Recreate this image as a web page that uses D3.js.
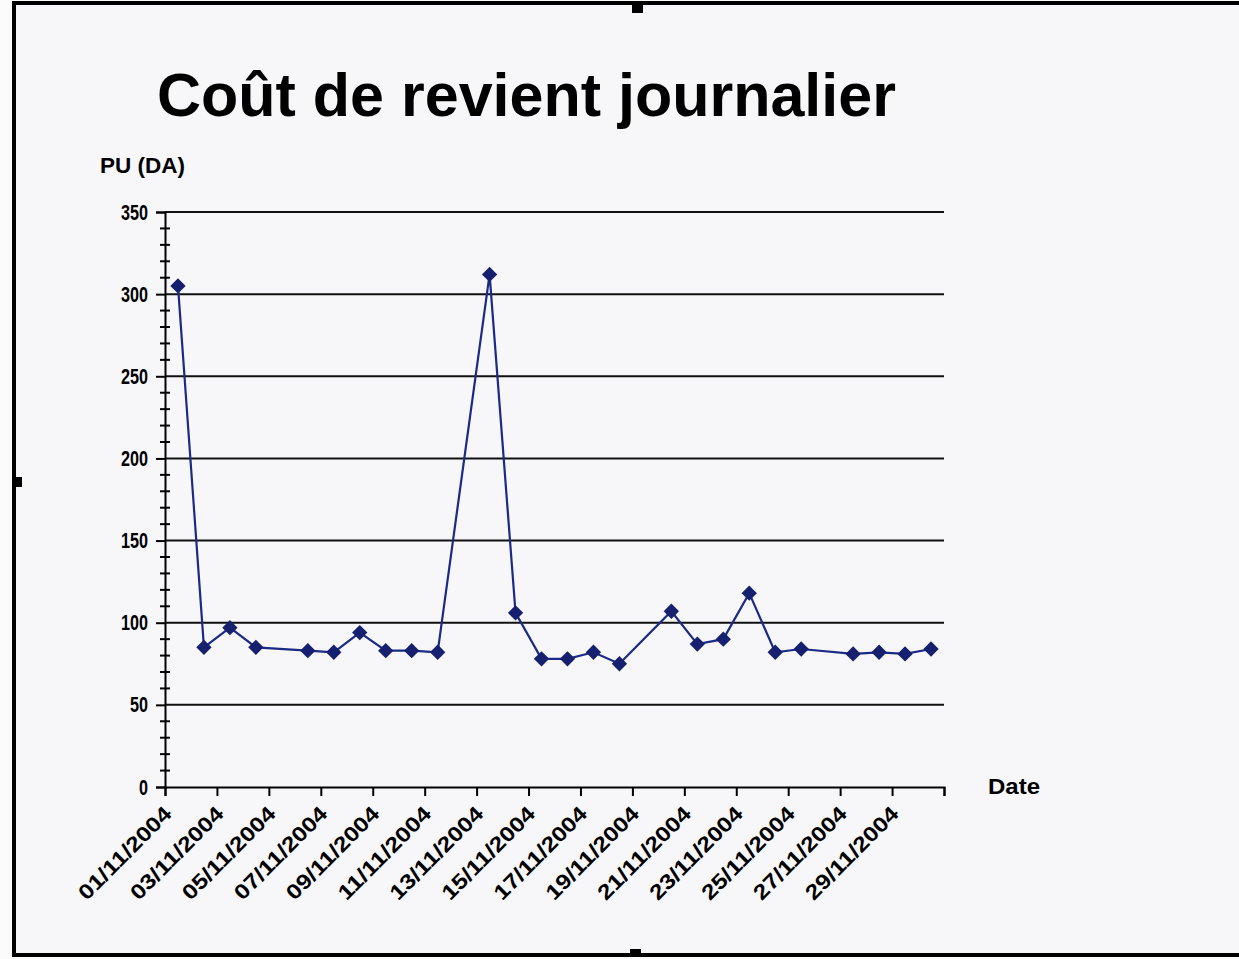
<!DOCTYPE html>
<html lang="fr">
<head>
<meta charset="UTF-8">
<title>Coût de revient journalier</title>
<script src="https://d3js.org/d3.v7.min.js"></script>
<style>
  body { margin: 0; background: #fbfbfc; }
  svg { display: block; }
  .lbl { font-family: "Liberation Sans", Arial, sans-serif; font-weight: bold; fill: #000; }
</style>
</head>
<body>
<svg id="chart" width="1239" height="959"></svg>
<script>
// data (days with no value are skipped: 05, 12, 19, 26)
var days = ["01/11/2004", "02/11/2004", "03/11/2004", "04/11/2004", "06/11/2004",
            "07/11/2004", "08/11/2004", "09/11/2004", "10/11/2004", "11/11/2004",
            "13/11/2004", "14/11/2004", "15/11/2004", "16/11/2004", "17/11/2004",
            "18/11/2004", "20/11/2004", "21/11/2004", "22/11/2004", "23/11/2004",
            "24/11/2004", "25/11/2004", "27/11/2004", "28/11/2004", "29/11/2004",
            "30/11/2004"];
var pu = [305, 85, 97, 85, 83, 82, 94, 83, 83, 82,
          312, 106, 78, 78, 82, 75, 107, 87, 90, 118,
          82, 84, 81, 82, 81, 84];
var tickLabels = ["01/11/2004", "03/11/2004", "05/11/2004", "07/11/2004", "09/11/2004",
                  "11/11/2004", "13/11/2004", "15/11/2004", "17/11/2004", "19/11/2004",
                  "21/11/2004", "23/11/2004", "25/11/2004", "27/11/2004", "29/11/2004"];
var yTicks = [0, 50, 100, 150, 200, 250, 300, 350];

var parse = d3.utcParse("%d/%m/%Y");
var data = days.map(function(d, i) { return { date: parse(d), v: pu[i] }; });

var svg = d3.select("#chart");
var plotLeft = 165, plotRight = 944, plotTop = 212, plotBottom = 787;

// frame of the chart object
svg.append("rect").attr("x", 14).attr("y", 3).attr("width", 1240).attr("height", 952)
    .attr("fill", "#f7f7f9").attr("stroke", "#000").attr("stroke-width", 4);
[[632, 4, 11, 9], [14, 477, 8, 10], [630, 949, 11, 8]].forEach(function(h) {
    svg.append("rect").attr("x", h[0]).attr("y", h[1]).attr("width", h[2]).attr("height", h[3]).attr("fill", "#000");
});

var x = d3.scaleUtc()
    .domain([parse("01/11/2004"), d3.utcDay.offset(parse("30/11/2004"), 1)])
    .range([plotLeft, plotRight]);
var y = d3.scaleLinear().domain([0, 350]).range([plotBottom, plotTop]);

// gridlines
svg.append("g").selectAll("line").data(yTicks.slice(1)).enter().append("line")
    .attr("x1", plotLeft).attr("x2", plotRight)
    .attr("y1", function(d) { return y(d); }).attr("y2", function(d) { return y(d); })
    .attr("stroke", "#111").attr("stroke-width", 2);

// y axis: major ticks outside, minor ticks across
var yAxis = svg.append("g").attr("transform", "translate(" + plotLeft + ",0)")
    .call(d3.axisLeft(y).tickValues(yTicks).tickSize(9).tickPadding(8))
    .call(function(g) { g.select(".domain").attr("stroke-width", 2); });
yAxis.selectAll(".tick line").attr("stroke-width", 2);
yAxis.selectAll(".tick text").attr("class", "lbl").style("font-size", "22px")
    .attr("textLength", function(d) { return d < 10 ? 9 : d < 100 ? 18 : 27; })
    .attr("lengthAdjust", "spacingAndGlyphs");
svg.append("g").selectAll("line").data(d3.range(0, 351, 10).filter(function(v) { return v % 50; }))
    .enter().append("line")
    .attr("x1", plotLeft - 5).attr("x2", plotLeft + 5)
    .attr("y1", function(d) { return y(d); }).attr("y2", function(d) { return y(d); })
    .attr("stroke", "#000").attr("stroke-width", 2);

// x axis, every 2 days
var tickDates = tickLabels.map(parse).concat([x.domain()[1]]);
var xAxis = svg.append("g").attr("transform", "translate(0," + plotBottom + ")")
    .call(d3.axisBottom(x).tickValues(tickDates).tickSize(9).tickFormat(""))
    .call(function(g) { g.select(".domain").attr("stroke-width", 2); });
xAxis.selectAll(".tick line").attr("stroke-width", 2);

svg.append("g").selectAll("text").data(tickLabels).enter().append("text")
    .attr("class", "lbl")
    .attr("transform", function(d) { return "translate(" + (x(parse(d)) + 8) + "," + (plotBottom + 28) + ") rotate(-45)"; })
    .attr("text-anchor", "end")
    .attr("textLength", 122).attr("lengthAdjust", "spacingAndGlyphs")
    .style("font-size", "21px")
    .text(function(d) { return d; });

// series
var cx = function(d) { return x(d3.utcHour.offset(d.date, 12)); };
svg.append("path").datum(data)
    .attr("fill", "none").attr("stroke", "#1b2a86").attr("stroke-width", 2.2)
    .attr("d", d3.line().x(cx).y(function(d) { return y(d.v); }));
svg.append("g").selectAll("path").data(data).enter().append("path")
    .attr("d", d3.symbol(d3.symbolDiamond2, 150))
    .attr("transform", function(d) { return "translate(" + cx(d) + "," + y(d.v) + ")"; })
    .attr("fill", "#16206e");

// titles
svg.append("text").attr("class", "lbl").attr("x", 157).attr("y", 116)
    .style("font-size", "61px").text("Coût de revient journalier");
svg.append("text").attr("class", "lbl").attr("x", 100).attr("y", 173)
    .style("font-size", "22px").attr("textLength", 85).attr("lengthAdjust", "spacingAndGlyphs")
    .text("PU (DA)");
svg.append("text").attr("class", "lbl").attr("x", 988).attr("y", 794)
    .style("font-size", "22px").attr("textLength", 52).attr("lengthAdjust", "spacingAndGlyphs")
    .text("Date");
</script>
</body>
</html>
